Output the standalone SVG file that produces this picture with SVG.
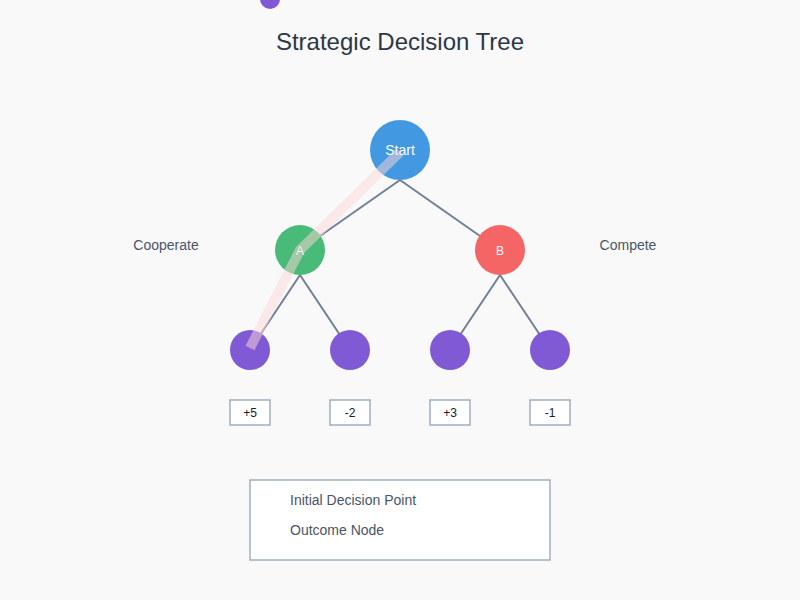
<svg xmlns="http://www.w3.org/2000/svg" width="800" height="600" viewBox="0 0 800 600">
<style>
text{font-family:"Liberation Sans",Arial,sans-serif}
.edge{stroke:#718096;stroke-width:2;fill:none}
.leaf{fill:#805ad5}
.val rect{fill:#fff;stroke:#a0aec0;stroke-width:1.5}
.val text{font-size:12px;fill:#1a202c;text-anchor:middle}
.lab{font-size:14px;fill:#4a5568;text-anchor:middle}
.nl{fill:#fff;text-anchor:middle}
</style>
<rect width="800" height="600" fill="#f9f9f9"/>
<circle cx="270" cy="-1" r="10" fill="#805ad5"/>
<text x="400" y="50" font-size="24" fill="#2d3748" text-anchor="middle">Strategic Decision Tree</text>
<g id="connectors">
<line class="edge" x1="400" y1="180" x2="300" y2="250"/>
<line class="edge" x1="400" y1="180" x2="500" y2="250"/>
<line class="edge" x1="300" y1="275" x2="250" y2="350"/>
<line class="edge" x1="300" y1="275" x2="350" y2="350"/>
<line class="edge" x1="500" y1="275" x2="450" y2="350"/>
<line class="edge" x1="500" y1="275" x2="550" y2="350"/>
</g>
<g id="start"><circle cx="400" cy="150" r="30" fill="#4299e1"/><text class="nl" x="400" y="155" font-size="14">Start</text></g>
<g id="nodeA"><circle cx="300" cy="250" r="25" fill="#48bb78"/><text class="nl" x="300" y="255" font-size="12">A</text></g>
<g id="nodeB"><circle cx="500" cy="250" r="25" fill="#f56565"/><text class="nl" x="500" y="255" font-size="12">B</text></g>
<g id="leaf1"><circle class="leaf" cx="250" cy="350" r="20"/></g>
<g id="leaf2"><circle class="leaf" cx="350" cy="350" r="20"/></g>
<g id="leaf3"><circle class="leaf" cx="450" cy="350" r="20"/></g>
<g id="leaf4"><circle class="leaf" cx="550" cy="350" r="20"/></g>
<text class="lab" x="166" y="250">Cooperate</text>
<text class="lab" x="628" y="250">Compete</text>
<g id="val1" class="val"><rect x="230" y="400" width="40" height="25"/><text x="250" y="417">+5</text></g>
<g id="val2" class="val"><rect x="330" y="400" width="40" height="25"/><text x="350" y="417">-2</text></g>
<g id="val3" class="val"><rect x="430" y="400" width="40" height="25"/><text x="450" y="417">+3</text></g>
<g id="val4" class="val"><rect x="530" y="400" width="40" height="25"/><text x="550" y="417">-1</text></g>
<path d="M400 152 L300 250 L250 348" fill="none" stroke="#fed7d7" stroke-width="10" stroke-opacity="0.5" stroke-linejoin="round"/>
<g id="legend">
<rect x="250" y="480" width="300" height="80" fill="#fff" stroke="#a0aec0" stroke-width="1.5"/>
<text x="290" y="505" font-size="14" fill="#4a5568">Initial Decision Point</text>
<text x="290" y="535" font-size="14" fill="#4a5568">Outcome Node</text>
</g>
</svg>
